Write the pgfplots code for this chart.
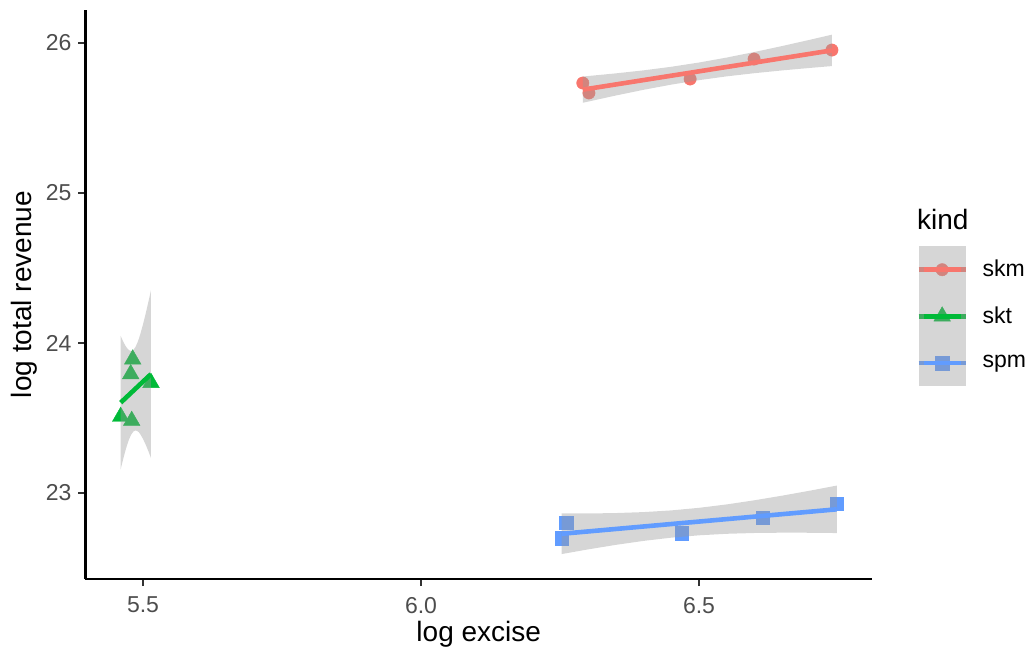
\documentclass[border=0pt]{standalone}
\usepackage{fontspec}
\setmainfont{Liberation Sans}
\usepackage{pgfplots}
\pgfplotsset{compat=1.18}
\definecolor{skmc}{HTML}{F8766D}
\definecolor{sktc}{HTML}{00BA38}
\definecolor{spmc}{HTML}{619CFF}
\definecolor{tickgrey}{HTML}{4D4D4D}
\begin{document}
\begin{tikzpicture}
\begin{axis}[
  scale only axis, width=393.25pt, height=284.5pt,
  xmin=5.3966, xmax=6.8111, ymin=22.4267, ymax=26.22,
  clip=false, clip marker paths=true,
  axis lines=left, axis line style={-, line width=1.3pt, black},
  xtick={5.5,6.0,6.5}, ytick={23,24,25,26},
  xticklabel={\pgfmathprintnumber[fixed,fixed zerofill,precision=1]{\tick}},
  /pgf/number format/assume math mode=true,
  tick align=outside, major tick length=3.5pt,
  tick style={line width=1.1pt, color=black!80},
  ticklabel style={font=\fontsize{11.5}{13}\selectfont, text=tickgrey},
  xticklabel style={yshift=-2pt},
  xlabel={log excise}, ylabel={log total revenue},
  label style={font=\fontsize{14}{16}\selectfont},
  xlabel style={at={(axis description cs:0.5,0)}, anchor=center, yshift=-27.75pt},
  ylabel style={at={(axis description cs:0,0.5)}, anchor=center, yshift=30.75pt},
  legend style={draw=none, fill=none, at={(axis description cs:1.0559,0.5852)}, anchor=north west,
    inner sep=0pt, row sep=0pt, column sep=7.35pt, nodes={inner sep=0pt},
    font=\fontsize{11.5}{13}\selectfont},
  legend cell align=left,
  legend image code/.code={
    \path[#1, mark repeat=2, mark phase=2] plot coordinates {(0pt,0pt) (11.75pt,0pt) (23.5pt,0pt)};
    \path[draw=none, fill=black!40, fill opacity=0.4] (0pt,-11.65pt) rectangle (23.5pt,11.65pt);
    \draw[#1] (2.5pt,0pt) -- (21pt,0pt);
  },
]
% points
\addplot[only marks, mark=*, mark size=3.1pt, color=skmc, mark options={line width=0.2pt}, forget plot]
  coordinates {(6.291,25.733) (6.302,25.667) (6.484,25.760) (6.599,25.893) (6.739,25.953)};
\addplot[only marks, mark=triangle*, mark size=4.8pt, color=sktc, mark options={line width=0.2pt}, forget plot]
  coordinates {(5.4815,23.891) (5.4779,23.793) (5.5144,23.735) (5.4599,23.509) (5.4797,23.482)};
\addplot[only marks, mark=square*, mark size=3.4pt, color=spmc, mark options={line width=0.2pt}, forget plot]
  coordinates {(6.2608,22.802) (6.2531,22.700) (6.4689,22.731) (6.6146,22.835) (6.7477,22.929)};
% skm band and line
\addplot[draw=none, fill=black!40, fill opacity=0.4, forget plot] coordinates {
 (6.291,25.7765) (6.35,25.7974) (6.40,25.8176) (6.45,25.8414) (6.50,25.8699) (6.55,25.9031) (6.60,25.9403) (6.65,25.9802) (6.70,26.0220) (6.739,26.0555)
 (6.739,25.8461) (6.70,25.8340) (6.65,25.8174) (6.60,25.7989) (6.55,25.7777) (6.50,25.7523) (6.45,25.7224) (6.40,25.6878) (6.35,25.6496) (6.291,25.6015)};
\addplot[skmc, line width=2.3pt, mark=*, mark size=3.1pt, mark phase=10, mark repeat=20, mark options={solid, line width=0.2pt}]
  coordinates {(6.291,25.689) (6.739,25.9508)};
\addlegendentry{skm}
% skt band and line
\addplot[draw=none, fill=black!40, fill opacity=0.4, forget plot] coordinates {
 (5.4599,24.0468) (5.4625,24.0250) (5.465,24.0055) (5.4675,23.9880) (5.47,23.9728) (5.4725,23.9607) (5.475,23.9520) (5.4785,23.9471) (5.4827,23.9542) (5.4865,23.9738) (5.49,24.0022) (5.4925,24.0277) (5.495,24.0569) (5.50,24.1238) (5.505,24.1986) (5.51,24.2789) (5.5144,24.3524)
 (5.5144,23.2330) (5.51,23.2759) (5.505,23.3212) (5.50,23.3612) (5.495,23.3931) (5.4925,23.4049) (5.49,23.4130) (5.4865,23.4168) (5.4827,23.4098) (5.4785,23.3877) (5.475,23.3584) (5.4725,23.3323) (5.47,23.3026) (5.4675,23.2700) (5.465,23.2351) (5.4625,23.1982) (5.4599,23.1582)};
\addplot[sktc, line width=2.3pt, mark=triangle*, mark size=4.8pt, mark phase=10, mark repeat=20, mark options={solid, line width=0.2pt}]
  coordinates {(5.4599,23.6025) (5.5144,23.7927)};
\addlegendentry{skt}
% spm band and line
\addplot[draw=none, fill=black!40, fill opacity=0.4, forget plot] coordinates {
 (6.2531,22.8634) (6.30,22.8636) (6.35,22.8663) (6.40,22.8727) (6.45,22.8840) (6.50,22.9012) (6.55,22.9241) (6.60,22.9517) (6.65,22.9827) (6.70,23.0160) (6.7477,23.0495)
 (6.7477,22.7331) (6.70,22.7350) (6.65,22.7355) (6.60,22.7335) (6.55,22.7281) (6.50,22.7180) (6.45,22.7022) (6.40,22.6807) (6.35,22.6541) (6.30,22.6238) (6.2531,22.5930)};
\addplot[spmc, line width=2.3pt, mark=square*, mark size=3.4pt, mark phase=10, mark repeat=20, mark options={solid, line width=0.2pt}]
  coordinates {(6.2531,22.7282) (6.7477,22.8913)};
\addlegendentry{spm}
\node[anchor=base west, font=\fontsize{14}{16}\selectfont, inner sep=0pt] at (axis description cs:1.0568,0.6151) {kind};
\end{axis}
\pgfresetboundingbox
\path[use as bounding box] (-42.75pt,-37pt) rectangle (470.25pt,289.5pt);
\end{tikzpicture}
\end{document}
